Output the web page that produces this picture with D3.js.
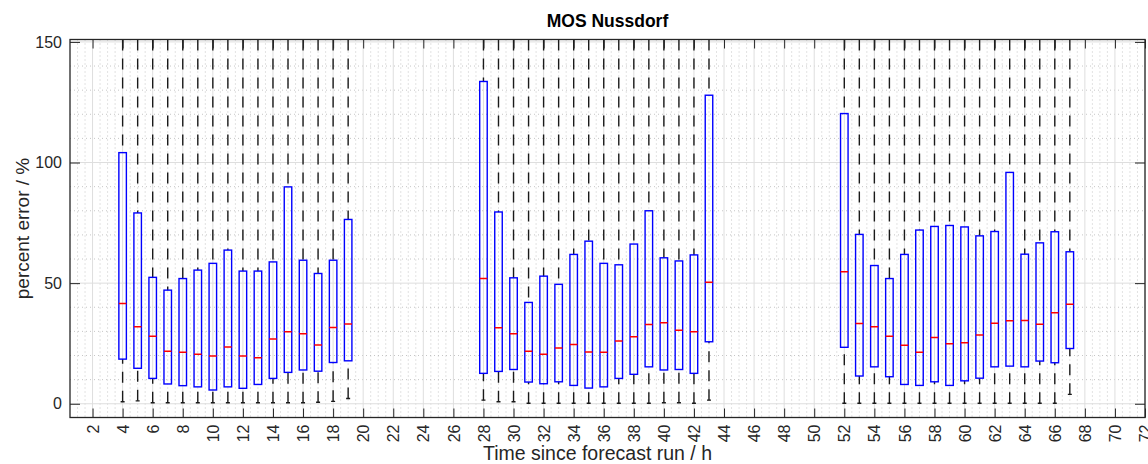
<!DOCTYPE html>
<html>
<head>
<meta charset="utf-8">
<script src="https://cdn.jsdelivr.net/npm/d3@7"></script>
<style>
  html, body { margin: 0; padding: 0; background: #fff; }
  svg { display: block; font-family: "Liberation Sans", Arial, Helvetica, sans-serif; }
</style>
</head>
<body>
<svg id="chart" width="1148" height="464"></svg>
<script>
// Forecast lead times (hours) that have statistics
const hours = [
  4, 5, 6, 7, 8, 9, 10, 11, 12, 13, 14, 15, 16, 17, 18, 19,
  28, 29, 30, 31, 32, 33, 34, 35, 36, 37, 38, 39, 40, 41, 42, 43,
  52, 53, 54, 55, 56, 57, 58, 59, 60, 61, 62, 63, 64, 65, 66, 67
];
// Upper quartile (box top), percent
const q3 = [
  104.1, 79.1, 52.4, 47.1, 51.9, 55.4, 58.2, 63.7, 55.0, 55.0, 58.8, 89.9, 59.5, 54.0, 59.5, 76.4,
  133.6, 79.5, 52.2, 42.0, 52.9, 49.5, 61.9, 67.4, 58.2, 57.6, 66.2, 80.0, 60.5, 59.2, 61.7, 127.9,
  120.3, 70.2, 57.3, 51.9, 61.9, 72.0, 73.5, 73.9, 73.3, 69.6, 71.4, 95.9, 62.0, 66.7, 71.3, 63.0
];
// Median, percent
const medians = [
  41.6, 31.9, 28.0, 21.8, 21.4, 20.5, 19.8, 23.5, 19.8, 19.1, 26.8, 29.8, 29.0, 24.4, 31.6, 33.1,
  51.9, 31.5, 29.0, 21.8, 20.5, 23.1, 24.6, 21.5, 21.4, 26.0, 27.8, 32.9, 33.6, 30.5, 29.8, 50.4,
  54.7, 33.3, 31.9, 28.0, 24.3, 21.4, 27.5, 24.9, 25.3, 28.5, 33.4, 34.4, 34.5, 33.0, 37.7, 41.2
];
// Lower quartile (box bottom), percent
const q1 = [
  18.5, 14.7, 10.5, 8.2, 7.5, 7.0, 5.7, 7.0, 6.4, 8.0, 10.5, 13.0, 14.0, 13.5, 17.1, 17.8,
  12.6, 13.4, 14.2, 9.0, 8.3, 9.1, 7.6, 6.5, 7.0, 10.5, 12.2, 15.3, 14.0, 14.2, 12.6, 25.7,
  23.4, 11.5, 15.3, 11.2, 8.0, 7.6, 9.1, 7.6, 9.5, 10.6, 15.3, 15.6, 15.3, 17.7, 17.0, 22.9
];
// Lower whisker end (minimum), percent
const whiskerLow = [
  0.8, 1.2, 0.4, 0.4, 0.4, 0.4, 0.4, 0.4, 0.4, 0.4, 0.4, 0.4, 0.4, 0.6, 1.0, 2.2,
  1.5, 0.8, 0.8, 0.2, 0.2, 0.2, 0.2, 0.2, 0.2, 0.2, 0.2, 0.2, 0.4, 0.4, 0.2, 1.5,
  0.2, 0.2, 0.2, 0.2, 0.2, 0.2, 0.2, 0.2, 0.2, 0.2, 0.2, 0.2, 0.2, 0.2, 0.2, 3.9
];
// Upper whisker end (maximum), percent; all lie above the visible range
const whiskerHigh = [
  420, 380, 300, 260, 290, 310, 330, 350, 300, 280, 320, 400, 330, 290, 310, 360,
  450, 390, 300, 250, 290, 280, 320, 340, 310, 300, 330, 380, 320, 310, 330, 440,
  430, 350, 300, 280, 320, 360, 370, 370, 360, 350, 360, 410, 330, 340, 360, 330
];
const xTicks = d3.range(2, 73, 2);
const yTicks = [0, 50, 100, 150];

const svg = d3.select("#chart");
const pLeft = 70, pRight = 1145, pTop = 39.5, pBottom = 417.5;
const x = d3.scaleLinear().domain([0.5, 72]).range([pLeft, pRight]);
const y = d3.scaleLinear().domain([-5.7, 151]).range([pBottom, pTop]);

const axisColor = "#262626";
const tickLen = 9;

const boxes = hours.map((h, i) => ({
  h, q1: q1[i], med: medians[i], q3: q3[i], lo: whiskerLow[i], hi: whiskerHigh[i]
}));

svg.append("defs").append("clipPath").attr("id", "plotClip")
  .append("rect").attr("x", pLeft).attr("y", pTop).attr("width", pRight - pLeft).attr("height", pBottom - pTop);

// Grid: minor dotted, then major solid
const grid = svg.append("g");
const minorX = d3.range(1, 72.01, 0.5).filter(v => v % 2 !== 0);
const minorY = d3.range(0, 151, 10).filter(v => v % 50 !== 0);
grid.selectAll("line.mx").data(minorX).join("line")
  .attr("x1", d => x(d)).attr("x2", d => x(d)).attr("y1", pTop).attr("y2", pBottom)
  .attr("stroke", "#b8b8b8").attr("stroke-width", 0.8).attr("stroke-dasharray", "1,3");
grid.selectAll("line.my").data(minorY).join("line")
  .attr("y1", d => y(d)).attr("y2", d => y(d)).attr("x1", pLeft).attr("x2", pRight)
  .attr("stroke", "#b8b8b8").attr("stroke-width", 0.8).attr("stroke-dasharray", "1,3");
grid.selectAll("line.gx").data(xTicks).join("line")
  .attr("x1", d => x(d)).attr("x2", d => x(d)).attr("y1", pTop).attr("y2", pBottom)
  .attr("stroke", "#dedede").attr("stroke-width", 1);
grid.selectAll("line.gy").data(yTicks).join("line")
  .attr("y1", d => y(d)).attr("y2", d => y(d)).attr("x1", pLeft).attr("x2", pRight)
  .attr("stroke", "#dedede").attr("stroke-width", 1);

// Box plots
const plot = svg.append("g").attr("clip-path", "url(#plotClip)");
const halfW = 0.25;
const yMax = y.domain()[1];

const wh = plot.append("g").attr("stroke", "#1a1a1a").attr("stroke-width", 1.4).attr("fill", "none");
// upper whiskers, drawn from the far end toward the box
wh.selectAll("line.up").data(boxes).join("line")
  .attr("x1", d => x(d.h)).attr("x2", d => x(d.h))
  .attr("y1", d => y(Math.min(d.hi, yMax))).attr("y2", d => y(d.q3))
  .attr("stroke-dasharray", "11,8");
// lower whiskers
wh.selectAll("line.dn").data(boxes).join("line")
  .attr("x1", d => x(d.h)).attr("x2", d => x(d.h))
  .attr("y1", d => y(d.lo)).attr("y2", d => y(d.q1))
  .attr("stroke-dasharray", "11,8");
// whisker caps
wh.selectAll("line.cap").data(boxes).join("line")
  .attr("x1", d => x(d.h) - 2).attr("x2", d => x(d.h) + 2)
  .attr("y1", d => y(d.lo)).attr("y2", d => y(d.lo));

plot.selectAll("rect.box").data(boxes).join("rect")
  .attr("x", d => x(d.h - halfW)).attr("width", d => x(d.h + halfW) - x(d.h - halfW))
  .attr("y", d => y(d.q3)).attr("height", d => y(d.q1) - y(d.q3))
  .attr("fill", "none").attr("stroke", "#0000ff").attr("stroke-width", 1.4);

plot.selectAll("line.med").data(boxes).join("line")
  .attr("x1", d => x(d.h - halfW)).attr("x2", d => x(d.h + halfW))
  .attr("y1", d => y(d.med)).attr("y2", d => y(d.med))
  .attr("stroke", "#ff0000").attr("stroke-width", 1.5);

// Axes: bottom and left with labels, top and right as mirrored ticks
const xAxis = d3.axisBottom(x).tickValues(xTicks).tickSizeInner(-tickLen).tickSizeOuter(0).tickPadding(0);
const gx = svg.append("g").attr("transform", `translate(0,${pBottom})`).call(xAxis);
gx.select(".domain").remove();
gx.selectAll(".tick line").attr("stroke", axisColor).attr("stroke-width", 1);
gx.selectAll(".tick text")
  .attr("fill", axisColor).attr("font-size", 16)
  .attr("transform", "translate(0,7) rotate(-90)")
  .attr("text-anchor", "end").attr("dy", "0.35em").attr("dx", 0).attr("y", 0).attr("x", 0);

const gxt = svg.append("g").attr("transform", `translate(0,${pTop})`)
  .call(d3.axisTop(x).tickValues(xTicks).tickSizeInner(-tickLen).tickSizeOuter(0).tickFormat(""));
gxt.select(".domain").remove();
gxt.selectAll(".tick line").attr("stroke", axisColor);

const yAxis = d3.axisLeft(y).tickValues(yTicks).tickSizeInner(-10).tickSizeOuter(0).tickPadding(8);
const gy = svg.append("g").attr("transform", `translate(${pLeft},0)`).call(yAxis);
gy.select(".domain").remove();
gy.selectAll(".tick line").attr("stroke", axisColor);
gy.selectAll(".tick text").attr("fill", axisColor).attr("font-size", 16).attr("x", -8);

const gyr = svg.append("g").attr("transform", `translate(${pRight},0)`)
  .call(d3.axisRight(y).tickValues(yTicks).tickSizeInner(-10).tickSizeOuter(0).tickFormat(""));
gyr.select(".domain").remove();
gyr.selectAll(".tick line").attr("stroke", axisColor);

// Axes frame
svg.append("rect").attr("x", pLeft).attr("y", pTop).attr("width", pRight - pLeft).attr("height", pBottom - pTop)
  .attr("fill", "none").attr("stroke", axisColor).attr("stroke-width", 1.3);

// Titles
svg.append("text").attr("x", (pLeft + pRight) / 2).attr("y", 27)
  .attr("text-anchor", "middle").attr("font-size", 17.5).attr("font-weight", "bold")
  .attr("fill", "#000").text("MOS Nussdorf");
svg.append("text").attr("x", (pLeft + pRight) / 2 - 10).attr("y", 460)
  .attr("text-anchor", "middle").attr("font-size", 19.5).attr("fill", axisColor)
  .text("Time since forecast run / h");
svg.append("text").attr("transform", `translate(29,${(pTop + pBottom) / 2}) rotate(-90)`)
  .attr("text-anchor", "middle").attr("font-size", 19).attr("fill", axisColor)
  .text("percent error / %");
</script>
</body>
</html>
